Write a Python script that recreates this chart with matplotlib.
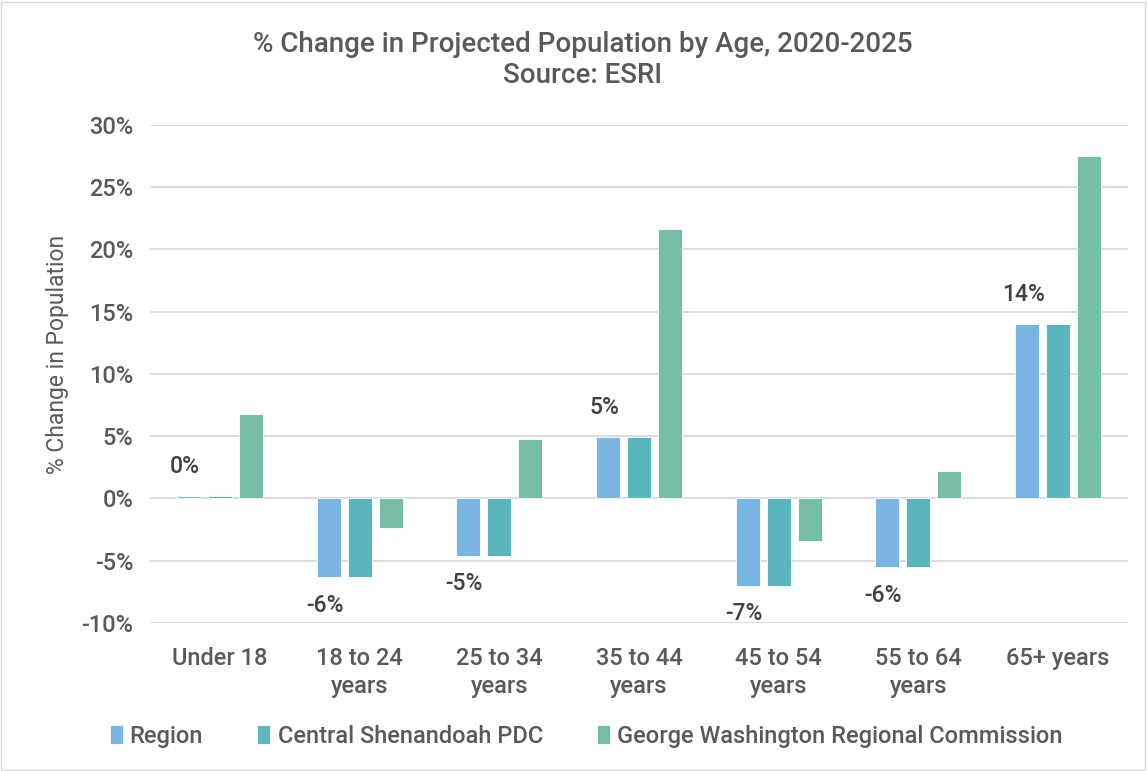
import matplotlib.pyplot as plt
import numpy as np
from matplotlib.patches import Rectangle

plt.rcParams["font.family"] = ["Roboto", "DejaVu Sans"]
plt.rcParams["font.weight"] = "medium"

categories = ["Under 18", "18 to 24\nyears", "25 to 34\nyears", "35 to 44\nyears",
              "45 to 54\nyears", "55 to 64\nyears", "65+ years"]
region = [0.2, -6.3, -4.6, 4.9, -7.0, -5.5, 14.0]
central = [0.2, -6.3, -4.6, 4.9, -7.0, -5.5, 14.0]
gwrc = [6.8, -2.4, 4.8, 21.6, -3.4, 2.2, 27.5]
region_labels = ["0%", "-6%", "-5%", "5%", "-7%", "-6%", "14%"]

series = [
    ("Region", region, "#78b5e3"),
    ("Central Shenandoah PDC", central, "#5ab5bf"),
    ("George Washington Regional Commission", gwrc, "#76bea6"),
]

text_color = "#595959"

fig = plt.figure(figsize=(11.47, 7.71), dpi=100)
ax = fig.add_axes([0.1308, 0.192, 0.8526, 0.646])

x = np.arange(len(categories))
width = 0.172
offsets = [-0.222, 0, 0.222]

for (name, values, color), off in zip(series, offsets):
    ax.bar(x + off, values, width, color=color, label=name, zorder=3,
           edgecolor="white", linewidth=0.6)

for xi, v, lab in zip(x, region, region_labels):
    if v >= 0:
        ax.annotate(lab, (xi - 0.25, v), xytext=(0, 13), textcoords="offset points",
                    ha="center", va="bottom", fontsize=16.5, color="#404040")
    else:
        ax.annotate(lab, (xi - 0.25, v), xytext=(0, -12), textcoords="offset points",
                    ha="center", va="top", fontsize=16.5, color="#404040")

ax.set_xlim(-0.5, len(categories) - 0.5)
ax.set_ylim(-10, 30)
ax.set_yticks(np.arange(-10, 31, 5))
ax.set_yticklabels([f"{t}%" for t in range(-10, 31, 5)])
ax.set_xticks(x)
ax.set_xticklabels(categories, linespacing=1.3)
ax.tick_params(axis="both", length=0, labelsize=17, colors=text_color)
ax.tick_params(axis="x", pad=17)
ax.tick_params(axis="y", pad=12)
ax.grid(axis="y", color="#d9d9d9", linewidth=1.3, zorder=0)
for s in ax.spines.values():
    s.set_visible(False)

ax.set_ylabel("% Change in Population", fontsize=16.5, color=text_color)
ax.yaxis.set_label_coords(-0.083, 0.54)

fig.text(0.508, 0.942, "% Change in Projected Population by Age, 2020-2025",
         ha="center", va="center", fontsize=20, color=text_color)
fig.text(0.508, 0.902, "Source: ESRI", ha="center", va="center",
         fontsize=20, color=text_color)

fig.legend(loc="center", bbox_to_anchor=(0.511, 0.045), ncol=3, frameon=False,
           fontsize=17, handlelength=0.55, handleheight=0.85, handletextpad=0.3,
           columnspacing=2.3, labelcolor=text_color)

fig.patches.append(Rectangle((0.001, 0.001), 0.997, 0.997, transform=fig.transFigure,
                             fill=False, edgecolor="#d9d9d9", linewidth=1))

fig.savefig("out.png", dpi=100)
